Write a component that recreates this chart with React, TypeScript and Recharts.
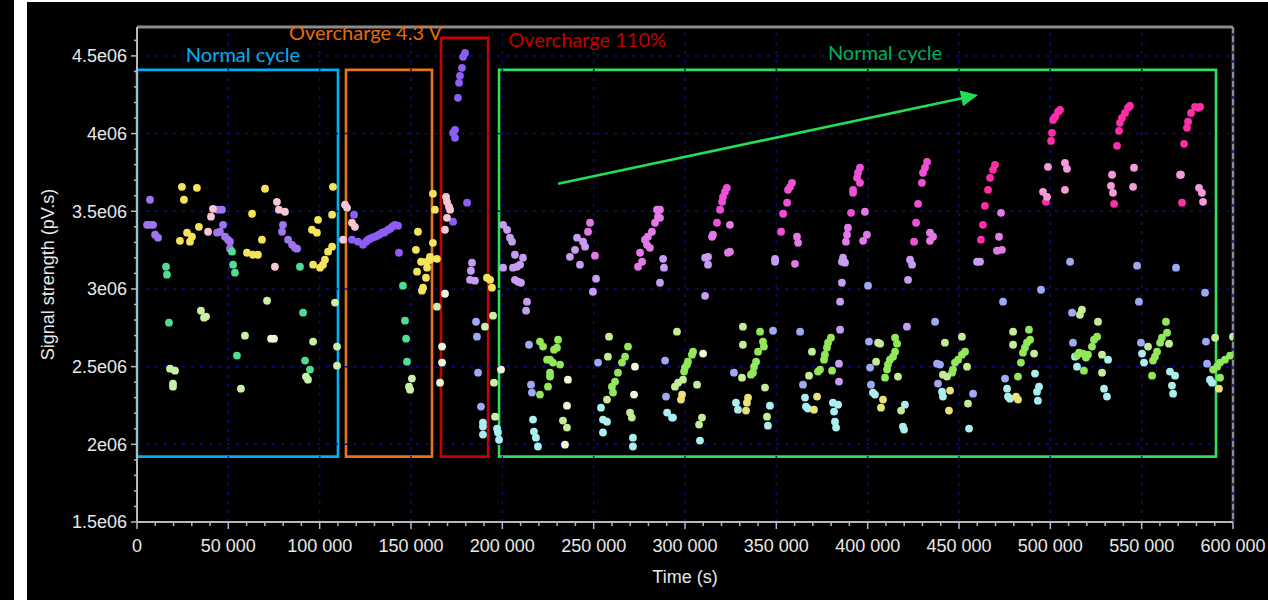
import React from 'react';
import { ScatterChart, Scatter, XAxis, YAxis, ReferenceArea, ReferenceLine, ReferenceDot } from 'recharts';

type Pt = [number, number];

// ---- axis ticks ----
const xMajorTicks = [0, 50000, 100000, 150000, 200000, 250000, 300000, 350000, 400000, 450000, 500000, 550000, 600000];
const xTickLabels = ['0', '50 000', '100 000', '150 000', '200 000', '250 000', '300 000', '350 000', '400 000', '450 000', '500 000', '550 000', '600 000'];
const yMajorTicks = [1500000, 2000000, 2500000, 3000000, 3500000, 4000000, 4500000];
const yTickLabels = ['1.5e06', '2e06', '2.5e06', '3e06', '3.5e06', '4e06', '4.5e06'];
const xAllTicks = Array.from({ length: 61 }, (_, i) => i * 10000);
const yAllTicks = Array.from({ length: 32 }, (_, i) => 1500000 + i * 100000);

// ---- series (time s, signal pV.s) ----
const violetNormal: Pt[] = [
  [7100, 3.574e6], [5500, 3.413e6], [7100, 3.413e6], [8800, 3.413e6], [9900, 3.349e6], [11500, 3.33e6],
  [44300, 3.51e6], [46500, 3.51e6], [43800, 3.362e6], [45400, 3.368e6], [47100, 3.413e6], [48200, 3.336e6],
  [49800, 3.317e6], [50900, 3.304e6], [50900, 3.259e6],
  [79900, 3.413e6], [79400, 3.368e6], [82700, 3.317e6], [84900, 3.284e6], [86500, 3.265e6], [87600, 3.259e6],
];
const violetOvercharge: Pt[] = [
  [118800, 3.478e6], [117700, 3.317e6], [121000, 3.304e6], [123700, 3.284e6], [125400, 3.304e6], [126500, 3.317e6],
  [127600, 3.323e6], [128700, 3.33e6], [130300, 3.336e6], [131400, 3.342e6], [132500, 3.349e6], [134100, 3.362e6],
  [135200, 3.362e6], [135800, 3.368e6], [137400, 3.381e6], [138500, 3.387e6], [139600, 3.4e6], [140700, 3.407e6],
  [141200, 3.413e6], [142900, 3.407e6], [143400, 3.233e6],
  [179600, 4.519e6], [178500, 4.494e6], [177900, 4.423e6], [176800, 4.372e6], [176300, 4.327e6], [175700, 4.23e6],
  [174100, 4.024e6], [173000, 4.005e6], [174100, 3.973e6], [180700, 3.555e6], [173000, 3.433e6],
];
const palePink: Pt[] = [
  [38900, 3.368e6], [40500, 3.465e6], [41600, 3.516e6], [76600, 3.561e6], [77700, 3.51e6], [81000, 3.497e6],
  [75500, 3.143e6], [113900, 3.542e6], [115000, 3.522e6], [117700, 3.426e6], [119300, 3.4e6], [112800, 3.317e6],
  [169700, 3.561e6], [170800, 3.529e6], [171400, 3.51e6], [169700, 3.458e6], [168600, 3.381e6], [169200, 3.593e6],
];
const yellow: Pt[] = [
  [24600, 3.657e6], [32800, 3.651e6], [25700, 3.574e6], [23500, 3.31e6], [27400, 3.362e6], [30100, 3.336e6],
  [29000, 3.304e6], [33900, 3.4e6], [70100, 3.645e6], [63000, 3.484e6], [60200, 3.233e6], [63500, 3.22e6],
  [66200, 3.22e6], [68400, 3.317e6], [107300, 3.657e6], [106800, 3.478e6], [95800, 3.381e6], [98500, 3.362e6],
  [99100, 3.445e6], [96400, 3.156e6], [100200, 3.137e6], [101800, 3.156e6], [102900, 3.188e6], [104600, 3.24e6],
  [106800, 3.272e6],
  [153800, 3.368e6], [152700, 3.252e6], [155500, 3.175e6], [158800, 3.175e6], [160400, 3.207e6], [153300, 3.111e6],
  [158800, 3.137e6], [158200, 3.072e6], [156600, 3.008e6], [156000, 2.989e6], [162000, 3.297e6], [160400, 3.188e6],
  [164200, 3.194e6], [163100, 3.51e6], [162000, 3.613e6], [191600, 3.072e6], [193300, 3.059e6], [194300, 3.008e6],
];
const teal: Pt[] = [
  [52000, 3.24e6], [52600, 3.156e6], [53600, 3.105e6], [15900, 3.143e6], [16400, 3.092e6], [17500, 2.783e6],
  [54700, 2.571e6], [89200, 3.143e6], [90900, 2.847e6], [92000, 2.539e6], [94700, 2.481e6], [145600, 3.021e6],
  [146700, 2.796e6], [147300, 2.68e6], [147800, 2.532e6],
];
const lightGreen: Pt[] = [
  [35000, 2.86e6], [36700, 2.815e6], [37800, 2.822e6], [71200, 2.924e6], [59100, 2.699e6], [96400, 2.661e6],
  [92500, 2.436e6], [93600, 2.416e6], [108400, 2.912e6], [109500, 2.629e6], [109500, 2.506e6], [18100, 2.487e6],
  [20800, 2.474e6], [19700, 2.391e6], [19700, 2.371e6], [56900, 2.358e6], [150500, 2.423e6], [148900, 2.371e6],
  [149500, 2.352e6], [164200, 2.886e6], [190500, 2.757e6], [194900, 2.828e6], [195400, 2.397e6], [196000, 2.178e6],
];
const cream: Pt[] = [
  [73400, 2.68e6], [75000, 2.68e6], [168600, 2.969e6], [167000, 2.629e6], [167000, 2.526e6], [165900, 2.397e6],
  [199300, 2.481e6], [235900, 2.416e6], [235400, 2.249e6], [234300, 1.998e6], [272600, 2.5e6], [272100, 2.32e6],
  [309900, 2.584e6],
];
const lavender: Pt[] = [
  [183400, 3.169e6], [182800, 3.117e6], [182300, 3.059e6], [185000, 3.053e6], [200400, 3.413e6], [202600, 3.381e6],
  [204200, 3.33e6], [205300, 3.304e6], [200400, 3.137e6], [206900, 3.22e6], [211300, 3.201e6], [208000, 3.143e6],
  [209700, 3.156e6], [205800, 3.137e6], [206900, 3.059e6], [208600, 3.047e6], [210200, 3.04e6], [213500, 2.918e6],
  [213000, 2.86e6], [240900, 3.33e6], [244200, 3.304e6], [245300, 3.272e6], [239800, 3.252e6], [237000, 3.207e6],
  [242500, 3.156e6], [251300, 3.066e6], [249600, 2.982e6], [288000, 3.194e6], [288500, 3.137e6], [286300, 3.04e6],
  [312600, 3.207e6], [311000, 3.201e6], [312600, 3.156e6], [311000, 2.956e6], [349300, 3.194e6], [349300, 3.175e6],
  [386500, 3.201e6], [385900, 3.175e6], [387600, 3.169e6], [385900, 3.04e6], [384900, 2.918e6], [384900, 2.738e6],
  [384300, 2.519e6], [384300, 2.404e6], [423200, 3.188e6], [424300, 3.156e6], [422100, 3.059e6], [421500, 2.757e6],
  [459900, 3.175e6], [461500, 3.175e6],
];
const periwinkle: Pt[] = [
  [185600, 2.789e6], [186100, 2.693e6], [186700, 2.461e6], [188300, 2.243e6], [214600, 2.641e6], [215700, 2.384e6],
  [216200, 2.333e6], [252400, 2.526e6], [289100, 2.539e6], [289600, 2.307e6], [326800, 2.461e6], [348200, 2.731e6],
  [363000, 2.725e6], [364600, 2.384e6], [400200, 3.021e6], [400700, 2.661e6], [401300, 2.494e6], [401800, 2.384e6],
  [436900, 2.789e6], [438000, 2.519e6], [438500, 2.391e6], [439600, 2.513e6], [457700, 2.326e6], [474100, 2.918e6],
  [494900, 2.995e6], [475200, 2.423e6], [510800, 3.175e6], [511900, 2.847e6], [512400, 2.654e6], [547500, 3.15e6],
  [548500, 2.918e6], [549600, 2.654e6], [568800, 3.137e6], [584700, 2.976e6], [585200, 2.661e6], [585800, 2.519e6],
];
const cyan: Pt[] = [
  [189400, 2.14e6], [189400, 2.114e6], [189400, 2.063e6], [197100, 2.101e6], [197600, 2.076e6], [198200, 2.03e6],
  [216800, 2.159e6], [217300, 2.082e6], [218400, 2.043e6], [219500, 1.986e6], [254000, 2.236e6], [255100, 2.159e6],
  [257300, 2.146e6], [255100, 2.076e6], [271500, 2.043e6], [271500, 1.986e6], [290200, 2.204e6], [292900, 2.172e6],
  [293400, 2.172e6], [308200, 2.024e6], [327900, 2.268e6], [329000, 2.223e6], [346500, 2.249e6], [345400, 2.12e6],
  [365700, 2.301e6], [366200, 2.243e6], [367300, 2.23e6], [381000, 2.268e6], [381600, 2.211e6], [382100, 2.146e6],
  [382700, 2.108e6], [383800, 2.255e6], [402900, 2.333e6], [404000, 2.32e6], [420400, 2.255e6], [419300, 2.114e6],
  [419900, 2.095e6], [440700, 2.339e6], [441200, 2.307e6], [455500, 2.101e6], [476300, 2.358e6], [476800, 2.307e6],
  [477900, 2.294e6], [491600, 2.455e6], [493800, 2.371e6], [492700, 2.339e6], [493200, 2.281e6], [513500, 2.564e6],
  [514600, 2.5e6], [531600, 2.545e6], [529400, 2.358e6], [531000, 2.307e6], [550200, 2.584e6], [551300, 2.526e6],
  [565500, 2.468e6], [568300, 2.442e6], [566600, 2.378e6], [567200, 2.326e6], [587400, 2.416e6], [588500, 2.397e6],
];
const paleYellow: Pt[] = [
  [298400, 2.32e6], [297800, 2.288e6], [334500, 2.301e6], [333900, 2.268e6], [333400, 2.217e6], [372300, 2.307e6],
  [370600, 2.223e6], [408400, 2.288e6], [407300, 2.236e6], [445100, 2.346e6], [444500, 2.217e6], [481200, 2.307e6],
  [482300, 2.288e6], [592300, 2.358e6],
];
const lime: Pt[] = [
  [220600, 2.661e6], [222300, 2.629e6], [224500, 2.545e6], [226100, 2.545e6], [228300, 2.609e6], [229900, 2.622e6],
  [230500, 2.673e6], [231600, 2.513e6], [227700, 2.526e6], [226100, 2.461e6], [226100, 2.436e6], [225000, 2.371e6],
  [220600, 2.32e6],
  [268800, 2.629e6], [267200, 2.564e6], [265500, 2.526e6], [263300, 2.461e6], [261700, 2.404e6], [260000, 2.371e6],
  [260600, 2.333e6],
  [304400, 2.596e6], [303800, 2.577e6], [301600, 2.532e6], [301100, 2.513e6], [300000, 2.494e6], [299500, 2.468e6],
  [341100, 2.725e6], [342700, 2.661e6], [343200, 2.629e6], [340000, 2.596e6], [338900, 2.532e6], [337800, 2.5e6],
  [337200, 2.461e6], [336100, 2.448e6],
  [379900, 2.686e6], [378300, 2.654e6], [377700, 2.622e6], [376600, 2.577e6], [376100, 2.545e6], [373900, 2.481e6],
  [372800, 2.468e6], [380500, 2.474e6],
  [415000, 2.686e6], [416100, 2.648e6], [415000, 2.596e6], [413900, 2.564e6], [412200, 2.545e6], [411100, 2.513e6],
  [410600, 2.481e6], [409500, 2.429e6],
  [453300, 2.596e6], [451600, 2.577e6], [449500, 2.545e6], [447800, 2.526e6], [446700, 2.481e6], [446200, 2.461e6],
  [488300, 2.738e6], [488900, 2.673e6], [487200, 2.654e6], [486100, 2.622e6], [485000, 2.59e6], [483900, 2.526e6],
  [482300, 2.436e6],
  [525600, 2.693e6], [523900, 2.673e6], [522800, 2.629e6], [520600, 2.577e6], [519500, 2.558e6], [517900, 2.584e6],
  [515700, 2.59e6], [514600, 2.571e6], [518400, 2.474e6],
  [563300, 2.789e6], [563900, 2.718e6], [561100, 2.686e6], [560100, 2.654e6], [558400, 2.596e6], [557300, 2.564e6],
  [556200, 2.539e6], [555700, 2.442e6],
  [598400, 2.571e6], [595600, 2.545e6], [592900, 2.526e6], [591300, 2.5e6], [589100, 2.481e6], [592900, 2.429e6],
];
const lightLime: Pt[] = [
  [233200, 2.153e6], [235400, 2.108e6], [258400, 2.693e6], [257800, 2.564e6], [257300, 2.288e6], [269900, 2.204e6],
  [270900, 2.172e6], [295600, 2.725e6], [298900, 2.416e6], [296200, 2.397e6], [294500, 2.371e6], [306600, 2.384e6],
  [307700, 2.127e6], [309300, 2.172e6], [331700, 2.757e6], [331700, 2.641e6], [331200, 2.429e6], [343800, 2.365e6],
  [344900, 2.178e6], [369500, 2.596e6], [367900, 2.442e6], [405700, 2.654e6], [406800, 2.648e6], [404600, 2.532e6],
  [416600, 2.436e6], [418300, 2.217e6], [451600, 2.693e6], [442300, 2.654e6], [454400, 2.5e6], [443400, 2.436e6],
  [441200, 2.448e6], [454900, 2.262e6], [479600, 2.725e6], [479600, 2.641e6], [491100, 2.584e6], [517300, 2.866e6],
  [516200, 2.834e6], [526100, 2.789e6], [528300, 2.577e6], [528300, 2.461e6], [553500, 2.629e6], [565000, 2.648e6],
  [590200, 2.686e6], [600000, 2.693e6],
];
const orchid: Pt[] = [
  [248000, 3.426e6], [246900, 3.368e6], [250700, 3.214e6], [284700, 3.51e6], [285200, 3.465e6], [283600, 3.426e6],
  [281900, 3.368e6], [279700, 3.336e6], [278100, 3.317e6], [279200, 3.284e6], [280800, 3.265e6], [275400, 3.233e6],
  [276500, 3.175e6], [274300, 3.143e6], [286300, 3.51e6], [286300, 3.458e6], [315300, 3.349e6], [314800, 3.336e6],
  [324600, 3.413e6], [324600, 3.24e6], [323500, 3.233e6], [361300, 3.336e6], [361900, 3.297e6], [360200, 3.162e6],
  [389200, 3.394e6], [388700, 3.349e6], [388100, 3.304e6], [398500, 3.497e6], [399600, 3.349e6], [397500, 3.31e6],
  [434100, 3.362e6], [435800, 3.336e6], [434100, 3.31e6], [473000, 3.49e6], [471900, 3.336e6], [470800, 3.246e6],
  [473500, 3.252e6],
];
const magenta: Pt[] = [
  [320300, 3.561e6], [319200, 3.51e6], [317500, 3.426e6], [322900, 3.651e6], [321900, 3.625e6], [320800, 3.593e6],
  [355900, 3.555e6], [353700, 3.484e6], [352600, 3.368e6], [358600, 3.683e6], [357500, 3.657e6], [356400, 3.638e6],
  [390900, 3.49e6], [395800, 3.78e6], [394700, 3.748e6], [394200, 3.715e6], [395800, 3.683e6], [392000, 3.638e6],
  [392000, 3.619e6], [427600, 3.548e6], [426500, 3.426e6], [425400, 3.304e6], [432500, 3.818e6], [431400, 3.78e6],
  [430300, 3.748e6], [429700, 3.683e6],
];
const hotPink: Pt[] = [
  [464200, 3.535e6], [463100, 3.413e6], [462000, 3.317e6], [469700, 3.799e6], [468600, 3.767e6], [467000, 3.715e6],
  [465900, 3.638e6], [505300, 4.153e6], [504200, 4.14e6], [502600, 4.108e6], [501500, 4.088e6], [500900, 4.005e6],
  [500400, 3.953e6], [497600, 3.561e6], [543600, 4.178e6], [542500, 4.166e6], [540900, 4.133e6], [539200, 4.101e6],
  [538100, 4.069e6], [537600, 4.018e6], [536500, 3.921e6], [534900, 3.548e6], [582000, 4.172e6], [580900, 4.166e6],
  [579200, 4.172e6], [577000, 4.133e6], [575400, 4.076e6], [574800, 4.037e6], [573200, 3.934e6], [572100, 3.555e6],
];
const lightPink: Pt[] = [
  [498700, 3.786e6], [508000, 3.812e6], [509100, 3.773e6], [508000, 3.638e6], [496000, 3.625e6], [498200, 3.593e6],
  [545800, 3.78e6], [533800, 3.735e6], [533200, 3.664e6], [534300, 3.619e6], [545300, 3.657e6], [571000, 3.735e6],
  [571500, 3.735e6], [581400, 3.651e6], [583000, 3.619e6], [583600, 3.561e6],
];

const seriesList: { name: string; data: Pt[]; color: string }[] = [
  { name: 'violetNormal', data: violetNormal, color: '#a174f2' },
  { name: 'violetOvercharge', data: violetOvercharge, color: '#8d5ef5' },
  { name: 'palePink', data: palePink, color: '#f6c6d8' },
  { name: 'yellow', data: yellow, color: '#f3e45a' },
  { name: 'teal', data: teal, color: '#50dc92' },
  { name: 'lightGreen', data: lightGreen, color: '#c8f0a6' },
  { name: 'cream', data: cream, color: '#eef8d8' },
  { name: 'lavender', data: lavender, color: '#c89cf2' },
  { name: 'periwinkle', data: periwinkle, color: '#9fa8f5' },
  { name: 'cyan', data: cyan, color: '#aaeef0' },
  { name: 'paleYellow', data: paleYellow, color: '#e8e27a' },
  { name: 'lime', data: lime, color: '#92e85a' },
  { name: 'lightLime', data: lightLime, color: '#c2ec98' },
  { name: 'orchid', data: orchid, color: '#e47ae8' },
  { name: 'magenta', data: magenta, color: '#f050d8' },
  { name: 'hotPink', data: hotPink, color: '#ff2ea6' },
  { name: 'lightPink', data: lightPink, color: '#f59ad8' },
];

// region boxes
const boxes = [
  { x1: 0, x2: 110000, y1: 1.921e6, y2: 4.41e6, color: '#00b0f0' },
  { x1: 114400, x2: 161500, y1: 1.921e6, y2: 4.41e6, color: '#e8731e' },
  { x1: 166400, x2: 192200, y1: 1.921e6, y2: 4.616e6, color: '#c80000' },
  { x1: 198200, x2: 590700, y1: 1.921e6, y2: 4.41e6, color: '#2ee05a' },
];
const boxLabels = [
  { text: 'Normal cycle', x: 58000, y: 4.506e6, color: '#00b0f0' },
  { text: 'Overcharge 4.3 V', x: 125100, y: 4.648e6, color: '#e46c0a' },
  { text: 'Overcharge 110%', x: 246400, y: 4.603e6, color: '#c00000' },
  { text: 'Normal cycle', x: 409500, y: 4.519e6, color: '#00b050' },
];
const arrowSegment = [{ x: 230500, y: 3.677e6 }, { x: 460400, y: 4.249e6 }];

const Y_MAX = 4.686e6;
const FONT = 'Liberation Sans, Arial, sans-serif';
const GRID = '#0c0c85';

const XTick = (props: any) => {
  const { x, y, payload } = props;
  const idx = xMajorTicks.indexOf(payload.value);
  const major = idx >= 0;
  return (
    <g>
      <line x1={x} x2={x} y1={y} y2={y + (major ? 7 : 4)} stroke="#b8b8b8" strokeWidth={1.5} />
      {major && (
        <text x={x} y={y + 30} textAnchor="middle" fill="#e8e8e8" fontSize={18} fontFamily={FONT}>
          {xTickLabels[idx]}
        </text>
      )}
    </g>
  );
};

const YTick = (props: any) => {
  const { x, y, payload } = props;
  const idx = yMajorTicks.indexOf(payload.value);
  const major = idx >= 0;
  return (
    <g>
      <line x1={x - (major ? 6 : 3)} x2={x} y1={y} y2={y} stroke="#b8b8b8" strokeWidth={1.5} />
      {major && (
        <text x={x - 10} y={y} dy="0.36em" textAnchor="end" fill="#e8e8e8" fontSize={18} fontFamily={FONT}>
          {yTickLabels[idx]}
        </text>
      )}
    </g>
  );
};

const Dot = (props: any) => {
  if (props.cx == null || props.cy == null) return null;
  return <circle cx={props.cx} cy={props.cy} r={3.9} fill={props.fill} />;
};

const Arrow = (props: any) => {
  const { x1, y1, x2, y2 } = props;
  if ([x1, y1, x2, y2].some((v) => v == null || isNaN(v))) return null;
  const dx = x2 - x1;
  const dy = y2 - y1;
  const len = Math.hypot(dx, dy) || 1;
  const ux = dx / len;
  const uy = dy / len;
  const hl = 17;
  const hw = 8;
  const bx = x2 - ux * hl;
  const by = y2 - uy * hl;
  const pts = `${x2},${y2} ${bx - uy * hw},${by + ux * hw} ${bx + uy * hw},${by - ux * hw}`;
  return (
    <g>
      <line x1={x1} y1={y1} x2={bx + ux * 2} y2={by + uy * 2} stroke="#22dd55" strokeWidth={2.6} />
      <polygon points={pts} fill="#22dd55" />
    </g>
  );
};

export default function App() {
  return (
    <div style={{ position: 'absolute', left: 0, top: 0, width: 1268, height: 600, background: '#ffffff', overflow: 'hidden' }}>
      <div style={{ position: 'absolute', left: 0, top: 0, width: 14, height: 600, background: '#000' }} />
      <div style={{ position: 'absolute', left: 27, top: 2, width: 1241, height: 598, background: '#000' }}>
        <ScatterChart width={1241} height={598} margin={{ top: 25, right: 35, bottom: 0, left: 0 }}>
          <XAxis
            type="number"
            dataKey="x"
            domain={[0, 600000]}
            ticks={xAllTicks}
            interval={0}
            tick={<XTick />}
            tickLine={false}
            tickSize={0}
            tickMargin={0}
            height={78}
            axisLine={{ stroke: '#b8b8b8', strokeWidth: 2 }}
            allowDataOverflow
            label={{ value: 'Time (s)', position: 'insideBottom', offset: 17, fill: '#e8e8e8', fontSize: 18, fontFamily: FONT }}
          />
          <YAxis
            type="number"
            dataKey="y"
            domain={[1500000, Y_MAX]}
            ticks={yAllTicks}
            interval={0}
            tick={<YTick />}
            tickLine={false}
            tickSize={0}
            tickMargin={0}
            width={110}
            axisLine={{ stroke: '#b8b8b8', strokeWidth: 2 }}
            allowDataOverflow
            label={{
              value: 'Signal strength (pV.s)',
              angle: -90,
              position: 'insideLeft',
              offset: 21,
              fill: '#e8e8e8',
              fontSize: 18,
              fontFamily: FONT,
              style: { textAnchor: 'middle' },
            }}
          />
          <ReferenceLine y={Y_MAX} stroke="#8c8c8c" strokeWidth={3} />
          <ReferenceLine x={600000} stroke="#8c8c8c" strokeWidth={2.5} />
          {xMajorTicks.slice(1).map((v) => (
            <ReferenceLine key={'gx' + v} x={v} stroke={GRID} strokeWidth={1.5} strokeDasharray="3 6" />
          ))}
          {yMajorTicks.slice(1).map((v) => (
            <ReferenceLine key={'gy' + v} y={v} stroke={GRID} strokeWidth={1.5} strokeDasharray="3 6" />
          ))}
          {boxes.map((b, i) => (
            <ReferenceArea key={'box' + i} x1={b.x1} x2={b.x2} y1={b.y1} y2={b.y2} fill="none" fillOpacity={0} stroke={b.color} strokeWidth={2.6} />
          ))}
          {seriesList.map((s) => (
            <Scatter
              key={s.name}
              name={s.name}
              data={s.data.map(([x, y]) => ({ x, y }))}
              fill={s.color}
              shape={Dot}
              isAnimationActive={false}
            />
          ))}
          <ReferenceLine segment={arrowSegment} shape={Arrow} stroke="#22dd55" />
          {boxLabels.map((l, i) => (
            <ReferenceDot
              key={'lab' + i}
              x={l.x}
              y={l.y}
              r={0}
              fill="none"
              stroke="none"
              label={{ value: l.text, position: 'center', fill: l.color, fontSize: 20, fontFamily: 'Lato, Open Sans, sans-serif' }}
            />
          ))}
        </ScatterChart>
      </div>
    </div>
  );
}
